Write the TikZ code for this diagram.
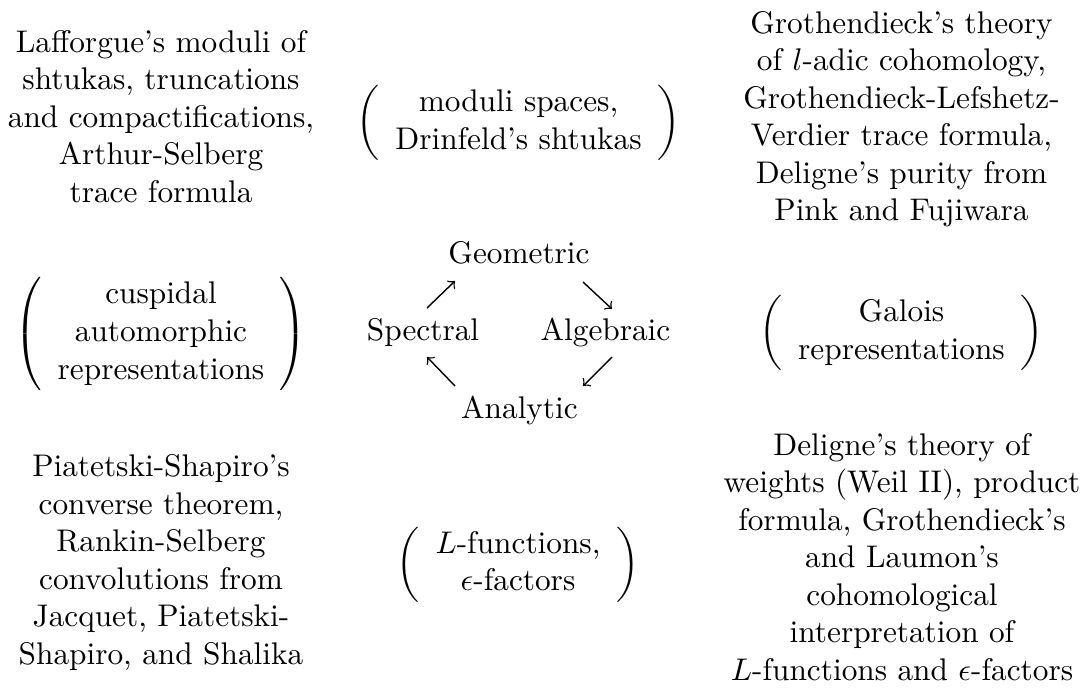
\documentclass[tikz,border=0pt]{standalone}
\usepackage{amsmath}
\tikzset{
  txtblock/.style={inner sep=0pt, anchor=base},
  parblock/.style={inner sep=0pt, anchor=center},
  word/.style={inner sep=0pt, anchor=base},
  cyc/.style={->, line width=0.45pt}
}
\begin{document}
\begin{tikzpicture}[x=0.3195pt, y=-0.3195pt]
\useasboundingbox (0,0) rectangle (1083,693);
% top row
\node[txtblock] (tl) at (161,52) {\begin{tabular}[t]{@{}c@{}}Lafforgue's moduli of\\ shtukas, truncations\\ and compactifications,\\ Arthur-Selberg\\ trace formula\end{tabular}};
\node[parblock] (tm) at (518.5,123) {$\left(\begin{array}{c}\text{moduli spaces,}\\ \text{Drinfeld's shtukas}\end{array}\right)$};
\node[txtblock] (tr) at (901.5,33) {\begin{tabular}[t]{@{}c@{}}Grothendieck's theory\\ of $l$-adic cohomology,\\ Grothendieck-Lefshetz-\\ Verdier trace formula,\\ Deligne's purity from\\ Pink and Fujiwara\end{tabular}};
% middle row
\node[parblock] (ml) at (161,334) {$\left(\begin{array}{c}\text{cuspidal}\\ \text{automorphic}\\ \text{representations}\end{array}\right)$};
\node[parblock] (mr) at (901.5,333) {$\left(\begin{array}{c}\text{Galois}\\ \text{representations}\end{array}\right)$};
\node[word] (geo) at (519,263) {Geometric};
\node[word] (spe) at (423,340.7) {Spectral};
\node[word] (alg) at (605.5,340.7) {Algebraic};
\node[word] (ana) at (519.5,418) {Analytic};
\coordinate (spe-out) at (427,308);
\coordinate (geo-in) at (455,281);
\coordinate (geo-out) at (583,282);
\coordinate (alg-in) at (612,309);
\coordinate (alg-out) at (612,357);
\coordinate (ana-in) at (583,386);
\coordinate (ana-out) at (455,386);
\coordinate (spe-in) at (427,357);
\draw[cyc] (spe-out) -- (geo-in);
\draw[cyc] (geo-out) -- (alg-in);
\draw[cyc] (alg-out) -- (ana-in);
\draw[cyc] (ana-out) -- (spe-in);
% bottom row
\node[txtblock] (bl) at (161,476.7) {\begin{tabular}[t]{@{}c@{}}Piatetski-Shapiro's\\ converse theorem,\\ Rankin-Selberg\\ convolutions from\\ Jacquet, Piatetski-\\ Shapiro, and Shalika\end{tabular}};
\node[parblock] (bm) at (518,564.5) {$\left(\begin{array}{c}\text{$L$-functions,}\\ \text{$\epsilon$-factors}\end{array}\right)$};
\node[txtblock] (br) at (902,455) {\begin{tabular}[t]{@{}c@{}}Deligne's theory of\\ weights (Weil II), product\\ formula, Grothendieck's\\ and Laumon's\\ cohomological\\ interpretation of\\ $L$-functions and $\epsilon$-factors\end{tabular}};
\end{tikzpicture}
\end{document}
